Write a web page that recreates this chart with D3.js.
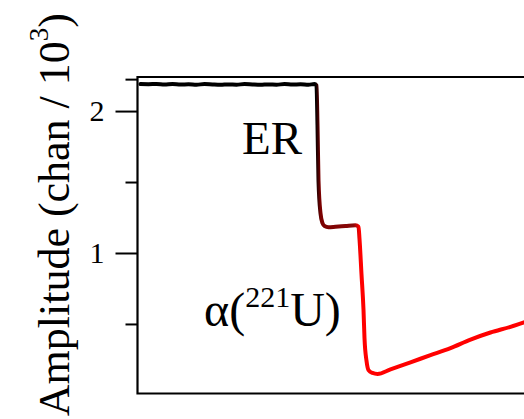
<!DOCTYPE html>
<html>
<head>
<meta charset="utf-8">
<script src="https://cdn.jsdelivr.net/npm/d3@7"></script>
<style>
  html, body { margin: 0; padding: 0; background: #fff; }
  svg { display: block; font-family: "Liberation Serif", "Times New Roman", serif; }
</style>
</head>
<body>
<div id="chart"></div>
<script>
// waktu (unit sembarang) dan amplitudo (chan / 10^3)
const times = [
  3, 11, 19, 27, 35, 43, 51, 59, 67, 75, 83, 91, 99, 107, 115, 123, 131, 139, 147, 155, 163, 171, 177, 179,
  180, 181, 183, 185, 187, 191, 198, 208, 218, 221,
  222, 224, 226, 227, 229, 231, 235, 240, 253, 273, 293, 313, 333, 353, 373, 390
];
const amplitudes = [
  2.19, 2.189, 2.191, 2.187, 2.19, 2.187, 2.189, 2.186, 2.19, 2.187, 2.185, 2.188, 2.186, 2.19, 2.187, 2.185, 2.188, 2.186, 2.19, 2.187, 2.189, 2.186, 2.19, 2.18,
  1.9, 1.51, 1.28, 1.21, 1.19, 1.182, 1.185, 1.19, 1.195, 1.185,
  1.1, 0.85, 0.6, 0.4, 0.24, 0.175, 0.155, 0.148, 0.18, 0.23, 0.28, 0.33, 0.39, 0.44, 0.48, 0.52
];
const majorTicks = [1, 2];
const minorTicks = [0.5, 1.5, 2.225];

const W = 524, H = 419;
const margin = { top: 77, left: 137.5, bottom: 393.5 };

const svg = d3.select("#chart").append("svg")
  .attr("width", W)
  .attr("height", H);

const x = d3.scaleLinear().domain([0, 400]).range([margin.left, margin.left + 400]);
const y = d3.scaleLinear().domain([0.01, 2.24]).range([margin.bottom, margin.top]);

// gradien warna garis: hitam -> merah tua -> merah
const grad = svg.append("defs").append("linearGradient")
  .attr("id", "lineGrad")
  .attr("gradientUnits", "userSpaceOnUse")
  .attr("x1", x(0)).attr("x2", x(400))
  .attr("y1", 0).attr("y2", 0);
[
  { t: 178, c: "#000000" },
  { t: 183, c: "#7a0000" },
  { t: 216, c: "#8a0a0a" },
  { t: 222, c: "#ff0000" }
].forEach(s => {
  grad.append("stop").attr("offset", s.t / 400).attr("stop-color", s.c);
});

// frame
svg.append("path")
  .attr("d", `M${W + 5},${margin.top}H${margin.left}V${margin.bottom}H${W + 5}`)
  .attr("fill", "none")
  .attr("stroke", "#000")
  .attr("stroke-width", 2.2);

// sumbu Y
const axisMajor = svg.append("g")
  .attr("transform", `translate(${margin.left},0)`)
  .call(d3.axisLeft(y).tickValues(majorTicks).tickSize(22).tickPadding(11).tickFormat(d3.format("d")));
axisMajor.select(".domain").remove();
axisMajor.selectAll("line").attr("stroke", "#000").attr("stroke-width", 2);
axisMajor.selectAll("text")
  .attr("font-family", "Liberation Serif")
  .attr("font-size", 30)
  .attr("fill", "#000");

const axisMinor = svg.append("g")
  .attr("transform", `translate(${margin.left},0)`)
  .call(d3.axisLeft(y).tickValues(minorTicks).tickSize(12).tickFormat(""));
axisMinor.select(".domain").remove();
axisMinor.selectAll("line").attr("stroke", "#000").attr("stroke-width", 2);

// label sumbu Y
const yLabel = svg.append("text")
  .attr("transform", "translate(69,13) rotate(-90)")
  .attr("text-anchor", "end")
  .attr("font-size", 44)
  .attr("fill", "#000");
yLabel.append("tspan").text("Amplitude (chan / 10");
yLabel.append("tspan").attr("font-size", 27).attr("dy", -21).text("3");
yLabel.append("tspan").attr("dy", 21).text(")");

// garis data
const points = times.map((t, i) => [t, amplitudes[i]]);
svg.append("path")
  .datum(points)
  .attr("fill", "none")
  .attr("stroke", "url(#lineGrad)")
  .attr("stroke-width", 4)
  .attr("stroke-linejoin", "round")
  .attr("stroke-linecap", "round")
  .attr("d", d3.line().x(d => x(d[0])).y(d => y(d[1])).curve(d3.curveMonotoneX));

// anotasi
svg.append("text")
  .attr("x", 242).attr("y", 154)
  .attr("font-size", 47)
  .attr("fill", "#000")
  .text("ER");

const alpha = svg.append("text")
  .attr("x", 204).attr("y", 326)
  .attr("font-size", 48)
  .attr("fill", "#000");
alpha.append("tspan").text("α(");
alpha.append("tspan").attr("font-size", 30).attr("dy", -19).text("221");
alpha.append("tspan").attr("dy", 19).text("U)");
</script>
</body>
</html>
